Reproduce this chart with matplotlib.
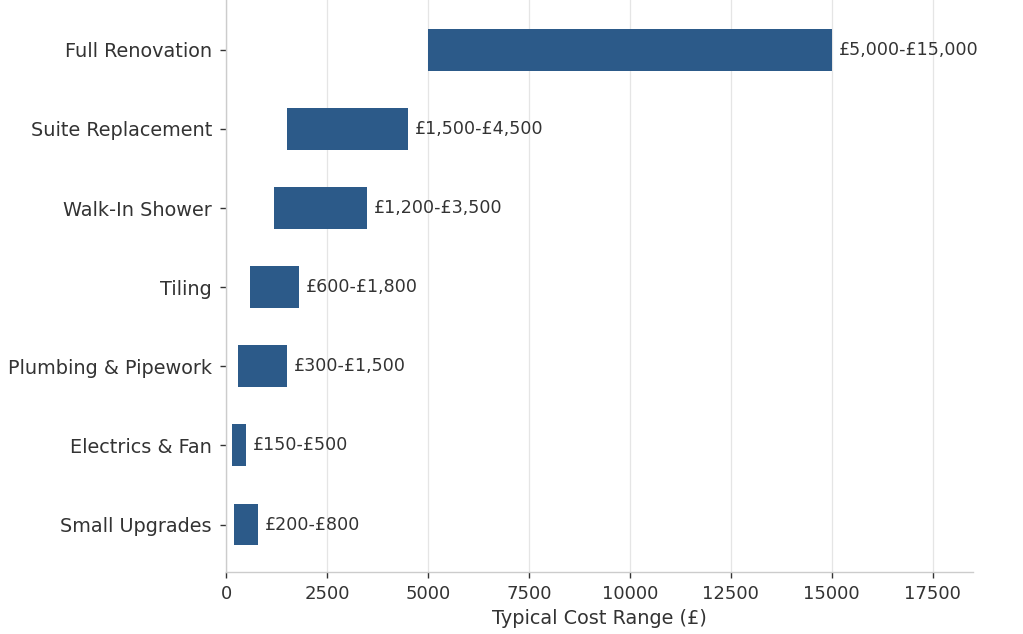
import matplotlib
matplotlib.use("Agg")
import matplotlib.pyplot as plt

categories = ["Full Renovation", "Suite Replacement", "Walk-In Shower", "Tiling",
              "Plumbing & Pipework", "Electrics & Fan", "Small Upgrades"]
low = [5000, 1500, 1200, 600, 300, 150, 200]
high = [15000, 4500, 3500, 1800, 1500, 500, 800]
labels = ["£5,000-£15,000", "£1,500-£4,500", "£1,200-£3,500", "£600-£1,800",
          "£300-£1,500", "£150-£500", "£200-£800"]

plt.rcParams['font.family'] = ['DejaVu Sans']
text_color = "#333333"

fig = plt.figure(figsize=(10.23, 6.34), dpi=100)
ax = fig.add_axes([226/1023, 1 - 572/634, (973-226)/1023, 572/634])

y = list(range(len(categories)))
widths = [h - l for l, h in zip(low, high)]
ax.barh(y, widths, left=low, height=0.53, color="#2c5a89", zorder=3)

for yi, h, lab in zip(y, high, labels):
    ax.annotate(lab, xy=(h, yi), xytext=(5, 0), textcoords="offset points",
                va="center", ha="left", fontsize=12.6, color=text_color, zorder=4)

ax.set_yticks(y)
ax.set_yticklabels(categories, fontsize=13.9, color=text_color)
ax.set_ylim(6.6, -0.63)
ax.set_xlim(0, 18500)
ax.set_xticks([0, 2500, 5000, 7500, 10000, 12500, 15000, 17500])
ax.tick_params(axis='x', labelsize=13, colors=text_color, length=4.5, width=1.0,
               color="#333333", pad=5)
ax.tick_params(axis='y', colors=text_color, length=4.5, width=1.0, color="#333333", pad=5.5)
ax.set_xlabel("Typical Cost Range (£)", fontsize=13.9, color=text_color, labelpad=4.5)

ax.grid(axis='x', color="#e5e5e5", linewidth=0.9, zorder=0)
ax.grid(axis='y', visible=False)
for s in ["top", "right"]:
    ax.spines[s].set_visible(False)
for s in ["left", "bottom"]:
    ax.spines[s].set_color("#cccccc")
    ax.spines[s].set_linewidth(1.0)

fig.savefig("out.png", dpi=100)
